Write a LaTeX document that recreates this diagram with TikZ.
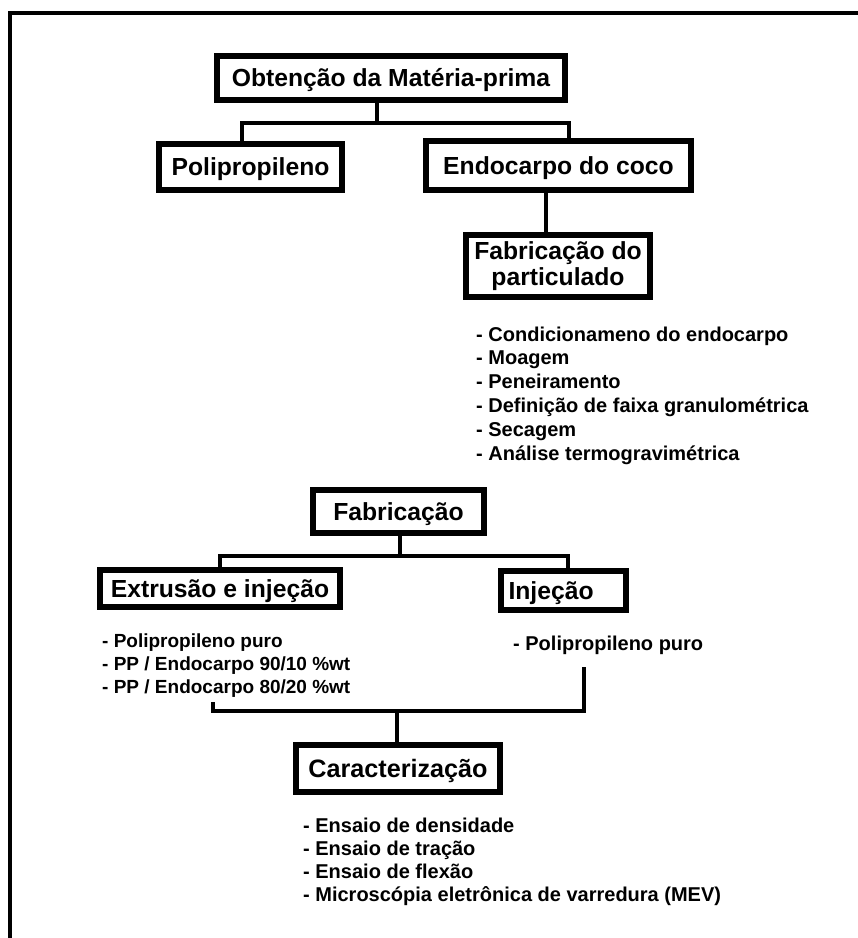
\documentclass[tikz,border=0pt]{standalone}
\usepackage{fontspec}
\setmainfont{Liberation Sans}
\usetikzlibrary{positioning}
\tikzset{
  box/.style={draw, rectangle, line width=6pt, inner sep=0pt, align=center,
    font=\fontsize{24.7}{26}\selectfont\bfseries},
  onebox/.style={box, text height=17.7pt, text depth=0pt},
  link/.style={line width=3.5pt},
  frame/.style={line width=4pt},
  item/.style={anchor=base west, inner sep=0pt, font=\fontsize{20}{24}\selectfont\bfseries}
}
\begin{document}
\begin{tikzpicture}[x=1pt, y=-1pt]
\clip (0,0) rectangle (858,938);
\fill[white] (0,0) rectangle (858,938);
\draw[frame] (10,960) -- (10,12.5) -- (880,12.5);

\node[onebox, minimum width=348, minimum height=44] (obt) at (391,78) {Obtenção da Matéria-prima};
\node[onebox, minimum width=183, minimum height=46] (poli) at (250.5,167) {Polipropileno};
\node[onebox, minimum width=265, minimum height=49] (endo) at (558.5,165.5) {Endocarpo do coco};
\node[box, minimum width=184, minimum height=62] (part) at (558,266) {Fabricação do\\particulado};
\node[onebox, minimum width=171, minimum height=43] (fab) at (398.5,511.5) {Fabricação};
\node[onebox, minimum width=240, minimum height=37] (extr) at (220,588.5) {Extrusão e injeção};
\node[onebox, minimum width=125, minimum height=39, text width=110, align=left] (inj) at (563.5,590.5) {Injeção};
\node[onebox, minimum width=204, minimum height=47, font=\fontsize{25.2}{26}\selectfont\bfseries] (cara) at (398,768.5) {Caracterização};

\coordinate (bus1) at (377,123);
\draw[link] ([xshift=-14]obt.south) -- (bus1);
\draw[link] ([xshift=-8.5]poli.north) |- (bus1) -| ([xshift=10.5]endo.north);
\draw[link] ([xshift=-12.5]endo.south) -- ([xshift=-12]part.north);

\foreach \t [count=\i] in {- Condicionameno do endocarpo, - Moagem, - Peneiramento,
    - Definição de faixa granulométrica, - Secagem, - Análise termogravimétrica}
  \node[item] (p\i) at (476,{341+23.8*(\i-1)}) {\t};

\coordinate (bus2) at (400,556);
\draw[link] (fab.south -| bus2) -- (bus2);
\draw[link] (extr.north) |- (bus2) -| ([xshift=4.5]inj.north);

\foreach \t [count=\i] in {- Polipropileno puro, - PP / Endocarpo 90/10 \%wt, - PP / Endocarpo 80/20 \%wt}
  \node[item, font=\fontsize{19}{23}\selectfont\bfseries] (e\i) at (102,{647+23*(\i-1)}) {\t};
\node[item] (i1) at (513,650) {- Polipropileno puro};

\coordinate (tipE) at (213,702);
\coordinate (tipI) at (584,667);
\coordinate (bus3) at (397,711);
\draw[link] (tipE) |- (bus3) -| (tipI);
\draw[link] (bus3) -- (bus3 |- cara.north);

\foreach \t [count=\i] in {- Ensaio de densidade, - Ensaio de tração, - Ensaio de flexão,
    - Microscópia eletrônica de varredura (MEV)}
  \node[item] (c\i) at (303,{832+23.3*(\i-1)}) {\t};
\end{tikzpicture}
\end{document}
